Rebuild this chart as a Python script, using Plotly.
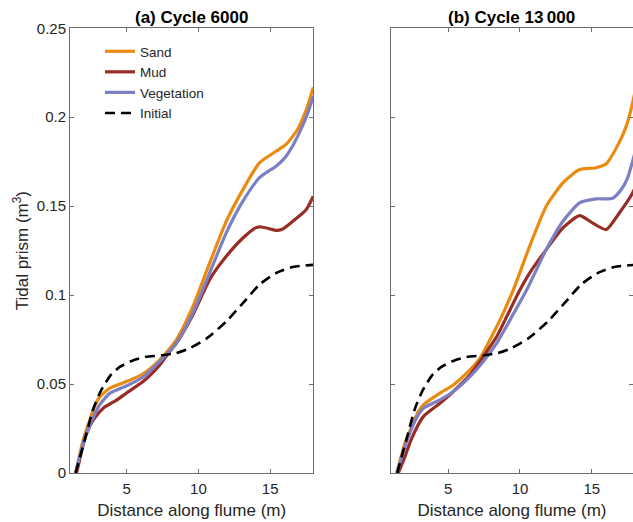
import plotly.graph_objects as go

# ---------------- data ----------------
series_names = ["Sand", "Mud", "Vegetation", "Initial"]
panel_titles = ["<b>(a) Cycle 6000</b>", "<b>(b) Cycle 13\u2009000</b>"]
x_tick_vals = [5, 10, 15]
y_tick_vals = [0, 0.05, 0.1, 0.15, 0.2, 0.25]
y_tick_text = ["0", "0.05", "0.1", "0.15", "0.2", "0.25"]

# Initial (same for both panels)
init_x = [1.45, 2.1, 2.68, 3.2, 3.84, 4.5, 5.36, 6.3, 7.5, 8.47, 9.3, 10.6, 11.94, 13.1, 14.25, 15.41, 16.57, 18.0]
init_y = [0.0, 0.019, 0.036, 0.046, 0.0545, 0.0595, 0.0630, 0.0652, 0.0662, 0.0675, 0.0698, 0.0758, 0.0852, 0.0955, 0.1059, 0.1124, 0.1158, 0.117]

# Panel (a) Cycle 6000
a_sand_x = [1.45, 1.98, 2.45, 2.75, 3.1, 3.84, 5.0, 6.15, 7.31, 8.47, 9.62, 10.78, 11.94, 13.1, 14.25, 15.41, 16.1, 16.9, 17.5, 18.0]
a_sand_y = [0.0, 0.0186, 0.0300, 0.0370, 0.0425, 0.0477, 0.0514, 0.0558, 0.0636, 0.0749, 0.0936, 0.118, 0.1415, 0.1593, 0.1744, 0.1809, 0.1847, 0.1931, 0.204, 0.2168]
a_mud_x = [1.52, 1.98, 2.22, 2.68, 3.37, 4.3, 5.0, 6.15, 7.31, 8.0, 8.47, 9.62, 10.78, 11.94, 13.1, 13.98, 14.4, 15.0, 15.41, 15.87, 16.57, 17.5, 18.0]
a_mud_y = [0.0, 0.016, 0.0224, 0.0298, 0.0364, 0.041, 0.045, 0.0514, 0.0608, 0.0683, 0.073, 0.089, 0.1087, 0.1218, 0.1321, 0.1378, 0.1383, 0.1372, 0.1364, 0.1372, 0.1415, 0.148, 0.1556]
a_veg_x = [1.45, 1.98, 2.45, 2.75, 3.1, 3.84, 5.0, 6.15, 7.31, 8.47, 9.62, 10.78, 11.94, 13.1, 14.25, 15.41, 16.0, 16.57, 17.13, 17.6, 18.0]
a_veg_y = [0.0, 0.0167, 0.0270, 0.0325, 0.0380, 0.0449, 0.049, 0.0540, 0.0627, 0.073, 0.09, 0.1124, 0.135, 0.1528, 0.166, 0.1725, 0.177, 0.1840, 0.193, 0.202, 0.2119]

# Panel (b) Cycle 13 000
b_sand_x = [1.42, 1.99, 2.46, 2.92, 3.27, 4.43, 5.36, 6.29, 7.22, 7.91, 8.61, 9.54, 10.67, 11.83, 12.99, 14.15, 15.3, 16.0, 16.92, 17.4, 17.78, 18.0]
b_sand_y = [0.0, 0.0167, 0.026, 0.0345, 0.0383, 0.0449, 0.0495, 0.0561, 0.0646, 0.0749, 0.0861, 0.103, 0.1274, 0.15, 0.1631, 0.1706, 0.1716, 0.1738, 0.1860, 0.1950, 0.2060, 0.2140]
b_mud_x = [1.53, 1.99, 2.46, 3.27, 4.43, 5.36, 6.52, 7.45, 8.38, 9.31, 10.0, 10.67, 11.83, 12.99, 14.15, 15.07, 16.0, 16.92, 17.78, 18.0]
b_mud_y = [0.0, 0.0092, 0.0195, 0.0317, 0.0392, 0.0458, 0.0552, 0.0655, 0.0767, 0.0918, 0.103, 0.1124, 0.1256, 0.1378, 0.1447, 0.1405, 0.1368, 0.1462, 0.1565, 0.160]
b_veg_x = [1.42, 1.99, 2.46, 2.92, 3.27, 4.43, 5.36, 6.52, 7.45, 8.38, 9.31, 10.47, 11.83, 12.99, 14.15, 15.3, 16.46, 17.15, 17.5, 17.8, 18.0]
b_veg_y = [0.0, 0.0148, 0.0251, 0.0326, 0.0364, 0.0411, 0.0458, 0.0542, 0.0627, 0.073, 0.0861, 0.103, 0.1256, 0.1415, 0.1518, 0.1541, 0.1545, 0.1605, 0.1660, 0.1740, 0.1800]

# ---------------- styling ----------------
colors = {"Sand": "#EA8A0F", "Mud": "#992D26", "Vegetation": "#7C80C2", "Initial": "#000000"}
FONT = "Liberation Sans, Arial, sans-serif"
AX = "#6e6e6e"
TXT = "#262626"

W, H = 633, 522


def px(v):  # screen x pixel -> paper
    return v / W


def py(v):  # screen y pixel -> paper
    return 1 - v / H


left_dom = [px(70), px(313.3)]
right_dom = [px(391), 1.0]
y_dom = [py(473), py(28.3)]

fig = go.Figure()

panels = [
    ("x", "y", a_sand_x, a_sand_y, a_mud_x, a_mud_y, a_veg_x, a_veg_y, True),
    ("x2", "y2", b_sand_x, b_sand_y, b_mud_x, b_mud_y, b_veg_x, b_veg_y, False),
]
for xa, ya, sx, sy, mx, my, vx, vy, show in panels:
    for name, xs, ys in [("Sand", sx, sy), ("Mud", mx, my), ("Vegetation", vx, vy)]:
        fig.add_trace(go.Scatter(x=xs, y=ys, name=name, mode="lines", xaxis=xa, yaxis=ya,
                                 line=dict(color=colors[name], width=3.2, shape="spline", smoothing=0.6),
                                 showlegend=show))
    fig.add_trace(go.Scatter(x=init_x, y=init_y, name="Initial", mode="lines", xaxis=xa, yaxis=ya,
                             line=dict(color=colors["Initial"], width=2.6, dash="10px,6px", shape="spline", smoothing=0.6),
                             showlegend=show))

common_x = dict(showline=True, linecolor=AX, linewidth=1, ticks="inside", ticklen=4, tickcolor=AX,
                tickvals=x_tick_vals, showgrid=False, zeroline=False, automargin=False,
                ticklabelstandoff=2,
                tickfont=dict(family=FONT, size=15, color=TXT),
                title=dict(text="Distance along flume (m)", font=dict(family=FONT, size=17, color=TXT), standoff=8))
common_y = dict(showline=True, linecolor=AX, linewidth=1, ticks="inside", ticklen=4, tickcolor=AX,
                tickvals=y_tick_vals, ticktext=y_tick_text, showgrid=False, zeroline=False, automargin=False,
                range=[0, 0.25], domain=y_dom, mirror="ticks",
                tickfont=dict(family=FONT, size=15, color=TXT))

fig.update_layout(
    width=W, height=H, margin=dict(l=0, r=0, t=0, b=0, autoexpand=False),
    plot_bgcolor="white", paper_bgcolor="white",
    font=dict(family=FONT, color=TXT),
    xaxis=dict(common_x, domain=left_dom, range=[1.06, 18.0], mirror="ticks", anchor="y"),
    yaxis=dict(common_y, anchor="x",
               title=dict(text="Tidal prism (m<sup>3</sup>)", font=dict(family=FONT, size=17, color=TXT), standoff=3)),
    xaxis2=dict(common_x, domain=right_dom, range=[1.02, 17.87], mirror="ticks", anchor="y2"),
    yaxis2=dict(common_y, anchor="x2", showticklabels=False),
    legend=dict(x=px(100), y=py(36), xanchor="left", yanchor="top",
                bgcolor="rgba(0,0,0,0)", font=dict(family=FONT, size=13.5, color=TXT),
                tracegroupgap=0, itemwidth=30),
    showlegend=True,
)

title_centers = [(70 + 313.3) / 2, 511]
for t, c in zip(panel_titles, title_centers):
    fig.add_annotation(text=t, xref="paper", yref="paper", x=px(c), y=py(18),
                       xanchor="center", yanchor="middle", showarrow=False,
                       font=dict(family=FONT, size=17, color="#000000"))

fig.write_html("out.html", config={"displayModeBar": False},
               post_script="document.body.style.margin='0';document.body.style.overflow='hidden';")
